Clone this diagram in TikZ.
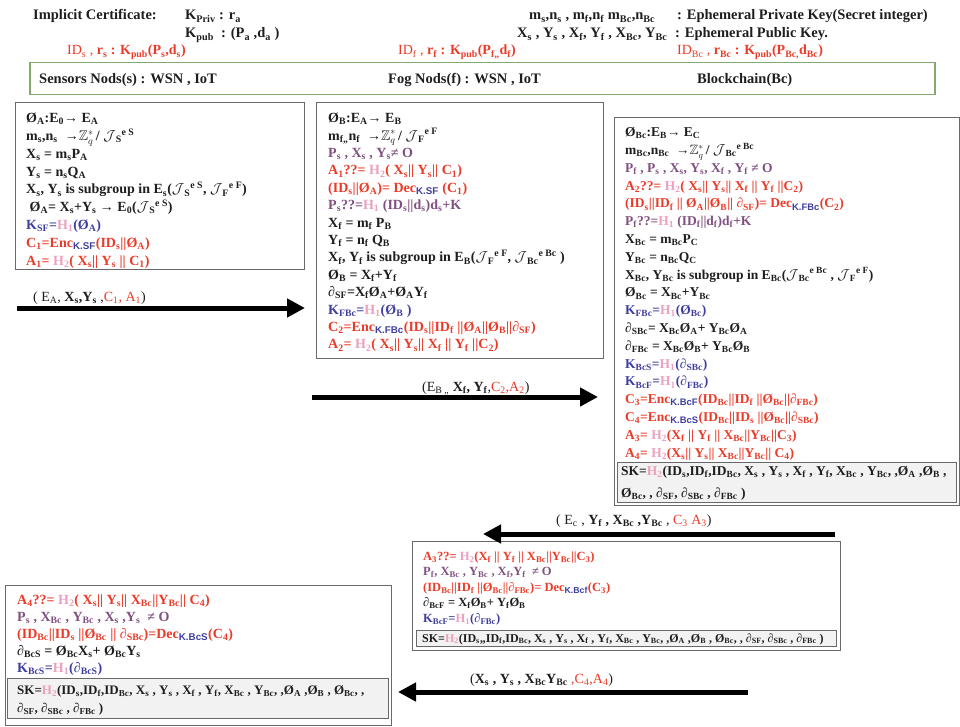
\documentclass[tikz,border=0pt]{standalone}
\usepackage{fontspec}
\setmainfont{Liberation Serif}
\setsansfont{Liberation Sans}
\usepackage{amssymb}
\usetikzlibrary{arrows.meta}

\definecolor{cred}{RGB}{236,58,40}
\definecolor{cpur}{RGB}{128,80,128}
\definecolor{cblue}{RGB}{62,62,160}
\definecolor{cpink}{RGB}{236,160,190}
\definecolor{cframe}{RGB}{105,105,105}
\definecolor{cgreen}{RGB}{130,170,110}
\definecolor{cskfill}{RGB}{242,242,242}
\definecolor{cink}{RGB}{30,30,30}

% sub/superscripts and recurring symbols
\newcommand\lo[1]{\textsubscript{#1}}
\newcommand\hi[1]{\textsuperscript{#1}}
\newcommand\Hh[1]{\textcolor{cpink}{H\lo{#1}}}
\newcommand\Kx[1]{\textsubscript{\textcolor{cblue}{\sffamily\bfseries #1}}}
\newcommand\Jc{$\mathcal{J}$}
\newcommand\Zq{$\mathbb{Z}^{*}_{q}$\,}
\newcommand\pd{{\itshape ∂}}
\newcommand\cR[1]{{\color{cred}#1}}
\newcommand\cP[1]{{\color{cpur}#1}}
\newcommand\cB[1]{{\color{cblue}#1}}
\newcommand\firstln{\rule{0pt}{11pt}}

\tikzset{
  hd/.style={anchor=base west, inner sep=0pt, text=cink, font=\bfseries\fontsize{14.5}{16}\selectfont},
  blk/.style={anchor=north west, inner sep=0pt, align=left, text=cink, font=\bfseries\fontsize{14}{17.8}\selectfont},
  frame/.style={draw=cframe, line width=1.2pt, anchor=north west, inner sep=0pt},
  skbox/.style={draw=cframe, fill=cskfill, line width=1pt, anchor=north west, inner sep=0pt},
  flow/.style={line width=5pt, -{Triangle[length=18pt,width=18pt]}},
  msg/.style={anchor=base west, inner sep=0pt, text=cink, font=\fontsize{14}{16}\selectfont},
}

\begin{document}
\begin{tikzpicture}[x=1pt,y=-1pt]
\useasboundingbox (0,0) rectangle (960,727);

% ---------------- header ----------------
\node[hd] (ic) at (33,20) {Implicit Certificate:};
\node[hd] (kpriv) at (185,20) {K\lo{Priv} : r\lo{a}};
\node[hd] (kpub) at (185,38) {K\lo{pub}\ \ : (P\lo{a} ,d\lo{a} )};
\node[hd] (ephm) at (529,20) {m\lo{s},n\lo{s} , m\lo{f},n\lo{f} m\lo{Bc},n\lo{Bc}};
\node[hd] (ephx) at (517,38) {X\lo{s} , Y\lo{s} , X\lo{f}, Y\lo{f} , X\lo{Bc}, Y\lo{Bc}};
\node[hd] (ephpriv) at (677,20) {: Ephemeral Private Key(Secret integer)};
\node[hd] (ephpub) at (675,38) {: Ephemeral Public Key.};
\node[hd, text=cred, font=\bfseries\fontsize{14}{16}\selectfont] (certs) at (67,55) {\mdseries ID\lo{s} , \bfseries r\lo{s} : K\lo{pub}(P\lo{s},d\lo{s})};
\node[hd, text=cred, font=\bfseries\fontsize{14}{16}\selectfont] (certf) at (398,55) {\mdseries ID\lo{f} , \bfseries r\lo{f} : K\lo{pub}(P\lo{f,,}d\lo{f})};
\node[hd, text=cred, font=\bfseries\fontsize{14}{16}\selectfont] (certbc) at (677,55) {\mdseries ID\lo{Bc} , \bfseries r\lo{Bc} : K\lo{pub}(P\lo{Bc,}d\lo{Bc})};

% ---------------- entities ----------------
\node[frame, draw=cgreen, line width=1.5pt, minimum width=905pt, minimum height=32pt] (ent) at (29,62) {};
\node[hd] (sens) at (39,84) {Sensors Nods(s) : WSN , IoT};
\node[hd] (fog) at (388,84) {Fog Nods(f) : WSN , IoT};
\node[hd] (bc) at (697,84) {Blockchain(Bc)};

% ---------------- sensor node ----------------
\node[frame, minimum width=289pt, minimum height=167pt] (box1) at (15,102) {};
\node[blk] (t1) at (26,111.5) {\firstln Ø\lo{A}:E\lo{0}→ E\lo{A}\\
m\lo{s},n\lo{s} \ →\Zq/ \Jc\lo{S}\hi{e S}\\
X\lo{s} = m\lo{s}P\lo{A}\\
Y\lo{s} = n\lo{s}Q\lo{A}\\
X\lo{s}, Y\lo{s} is subgroup in E\lo{s}(\Jc\lo{S}\hi{e S}, \Jc\lo{F}\hi{e F})\\
\ Ø\lo{A}= X\lo{s}+Y\lo{s} → E\lo{0}(\Jc\lo{S}\hi{e S})\\
\cB{K\lo{SF}=\Hh{1}(Ø\lo{A})}\\
\cR{C\lo{1}=Enc\Kx{K.SF}(ID\lo{s}||Ø\lo{A})}\\
\cR{A\lo{1}= \Hh{2}( X\lo{s}|| Y\lo{s} || C\lo{1})}};

% ---------------- fog node ----------------
\node[frame, minimum width=287pt, minimum height=256pt] (box2) at (316,102) {};
\node[blk, font=\bfseries\fontsize{14}{17.4}\selectfont] (t2) at (328,111.5) {\firstln Ø\lo{B}:E\lo{A}→ E\lo{B}\\
m\lo{f,,}n\lo{f} \ →\Zq/ \Jc\lo{F}\hi{e F}\\
\cP{P\lo{s} , X\lo{s} , Y\lo{s}≠ O}\\
\cR{A\lo{1}??= \Hh{2}( X\lo{s}|| Y\lo{s}|| C\lo{1})}\\
\cR{(ID\lo{s}||Ø\lo{A})= Dec\Kx{K.SF} (C\lo{1})}\\
\cP{P\lo{s}??=\Hh{1} (ID\lo{s}||d\lo{s})d\lo{s}+K}\\
X\lo{f} = m\lo{f} P\lo{B}\\
Y\lo{f} = n\lo{f} Q\lo{B}\\
X\lo{f}, Y\lo{f} is subgroup in E\lo{B}(\Jc\lo{F}\hi{e F}, \Jc\lo{Bc}\hi{e Bc} )\\
Ø\lo{B} = X\lo{f}+Y\lo{f}\\
\pd\lo{SF}=X\lo{f}Ø\lo{A}+Ø\lo{A}Y\lo{f}\\
\cB{K\lo{FBc}=\Hh{1}(Ø\lo{B} )}\\
\cR{C\lo{2}=Enc\Kx{K.FBc}(ID\lo{s}||ID\lo{f} ||Ø\lo{A}||Ø\lo{B}||\pd\lo{SF})}\\
\cR{A\lo{2}= \Hh{2}( X\lo{s}|| Y\lo{s}|| X\lo{f} || Y\lo{f} ||C\lo{2})}};

% ---------------- blockchain node ----------------
\node[frame, minimum width=345pt, minimum height=388pt] (box3) at (614,117) {};
\node[blk, font=\bfseries\fontsize{13.5}{17.8}\selectfont] (t3) at (625,125.5) {\firstln Ø\lo{Bc}:E\lo{B}→ E\lo{C}\\
m\lo{Bc},n\lo{Bc} \ →\Zq/ \Jc\lo{Bc}\hi{e Bc}\\
\cP{P\lo{f} , P\lo{s} , X\lo{s}, Y\lo{s}, X\lo{f} , Y\lo{f} ≠ O}\\
\cR{A\lo{2}??= \Hh{2}( X\lo{s}|| Y\lo{s}|| X\lo{f} || Y\lo{f} ||C\lo{2})}\\
\cR{(ID\lo{s}||ID\lo{f} || Ø\lo{A}||Ø\lo{B}|| \pd\lo{SF})= Dec\Kx{K.FBc}(C\lo{2})}\\
\cP{P\lo{f}??=\Hh{1} (ID\lo{f}||d\lo{f})d\lo{f}+K}\\
X\lo{Bc} = m\lo{Bc}P\lo{C}\\
Y\lo{Bc} = n\lo{Bc}Q\lo{C}\\
X\lo{Bc}, Y\lo{Bc} is subgroup in E\lo{Bc}(\Jc\lo{Bc}\hi{e Bc} , \Jc\lo{F}\hi{e F})\\
Ø\lo{Bc} = X\lo{Bc}+Y\lo{Bc}\\
\cB{K\lo{FBc}=\Hh{1}(Ø\lo{Bc})}\\
\pd\lo{SBc}= X\lo{Bc}Ø\lo{A}+ Y\lo{Bc}Ø\lo{A}\\
\pd\lo{FBc} = X\lo{Bc}Ø\lo{B}+ Y\lo{Bc}Ø\lo{B}\\
\cB{K\lo{BcS}=\Hh{1}(\pd\lo{SBc})}\\
\cB{K\lo{BcF}=\Hh{1}(\pd\lo{FBc})}\\
\cR{C\lo{3}=Enc\Kx{K.BcF}(ID\lo{Bc}||ID\lo{f} ||Ø\lo{Bc}||\pd\lo{FBc})}\\
\cR{C\lo{4}=Enc\Kx{K.BcS}(ID\lo{Bc}||ID\lo{s} ||Ø\lo{Bc}||\pd\lo{SBc})}\\
\cR{A\lo{3}= \Hh{2}(X\lo{f} || Y\lo{f} || X\lo{Bc}||Y\lo{Bc}||C\lo{3})}\\
\cR{A\lo{4}= \Hh{2}(X\lo{s}|| Y\lo{s}|| X\lo{Bc}||Y\lo{Bc}|| C\lo{4})}};
\node[skbox, minimum width=339pt, minimum height=40pt] (sk3) at (617,462) {};
\node[blk, font=\bfseries\fontsize{13.5}{22}\selectfont] (sk3t) at (621,464.5) {\firstln SK=\Hh{2}(ID\lo{s},ID\lo{f},ID\lo{Bc}, X\lo{s} , Y\lo{s} , X\lo{f} , Y\lo{f}, X\lo{Bc} , Y\lo{Bc}, ,Ø\lo{A} ,Ø\lo{B} ,\\
Ø\lo{Bc}, , \pd\lo{SF}, \pd\lo{SBc} , \pd\lo{FBc} )};

% ---------------- fog node, reply ----------------
\node[frame, minimum width=428pt, minimum height=109pt] (box4) at (412,541) {};
\node[blk, font=\bfseries\fontsize{12.5}{15.5}\selectfont] (t4) at (423,549) {\firstln \cR{A\lo{3}??= \Hh{2}(X\lo{f} || Y\lo{f} || X\lo{Bc}||Y\lo{Bc}||C\lo{3})}\\
\cP{P\lo{f}, X\lo{Bc} , Y\lo{Bc} , X\lo{f},Y\lo{f} \ ≠ O}\\
\cR{(ID\lo{Bc}||ID\lo{f} ||Ø\lo{Bc}||\pd\lo{FBc})= Dec\Kx{K.Bcf}(C\lo{3})}\\
\pd\lo{BcF} = X\lo{f}Ø\lo{B}+ Y\lo{f}Ø\lo{B}\\
\cB{K\lo{BcF}=\Hh{1}(\pd\lo{FBc})}};
\node[skbox, minimum width=420pt, minimum height=16pt] (sk4) at (416,630) {};
\node[hd, font=\bfseries\fontsize{12}{13}\selectfont] (sk4t) at (422,642) {SK=\Hh{2}(ID\lo{s},,ID\lo{f},ID\lo{Bc}, X\lo{s} , Y\lo{s} , X\lo{f} , Y\lo{f}, X\lo{Bc} , Y\lo{Bc}, ,Ø\lo{A} ,Ø\lo{B} , Ø\lo{Bc}, , \pd\lo{SF}, \pd\lo{SBc} , \pd\lo{FBc} )};

% ---------------- sensor node, reply ----------------
\node[frame, minimum width=386pt, minimum height=140pt] (box5) at (5,585) {};
\node[blk, font=\bfseries\fontsize{14}{17}\selectfont] (t5) at (17,593) {\firstln \cR{A\lo{4}??= \Hh{2}( X\lo{s}|| Y\lo{s}|| X\lo{Bc}||Y\lo{Bc}|| C\lo{4})}\\
\cP{P\lo{s} , X\lo{Bc} , Y\lo{Bc} , X\lo{s} ,Y\lo{s} \ ≠ O}\\
\cR{(ID\lo{Bc}||ID\lo{s} ||Ø\lo{Bc} || \pd\lo{SBc})=Dec\Kx{K.BcS}(C\lo{4})}\\
\pd\lo{BcS} = Ø\lo{Bc}X\lo{s}+ Ø\lo{Bc}Y\lo{s}\\
\cB{K\lo{BcS}=\Hh{1}(\pd\lo{BcS})}};
\node[skbox, minimum width=381pt, minimum height=40pt] (sk5) at (7,678) {};
\node[blk, font=\bfseries\fontsize{13}{18}\selectfont] (sk5t) at (17,683.5) {\firstln SK=\Hh{2}(ID\lo{s},ID\lo{f},ID\lo{Bc}, X\lo{s} , Y\lo{s} , X\lo{f} , Y\lo{f}, X\lo{Bc} , Y\lo{Bc}, ,Ø\lo{A} ,Ø\lo{B} , Ø\lo{Bc}, ,\\
\pd\lo{SF}, \pd\lo{SBc} , \pd\lo{FBc} )};

% ---------------- messages ----------------
\coordinate (m1s) at (17,308);
\coordinate (m1e) at (305,308);
\draw[flow] (m1s) -- (m1e);
\node[msg] (m1) at (33,301) {( E\lo{A}, \textbf{X\lo{s},Y\lo{s}} ,\cR{C\lo{1}, A\lo{1}})};

\coordinate (m2s) at (312,397);
\coordinate (m2e) at (598,397);
\draw[flow] (m2s) -- (m2e);
\node[msg] (m2) at (422,391) {(E\lo{B ,,} \textbf{X\lo{f}, Y\lo{f}},\cR{C\lo{2},A\lo{2}})};

\coordinate (m3s) at (835,534);
\coordinate (m3e) at (483,534);
\draw[flow] (m3s) -- (m3e);
\node[msg] (m3) at (556,524) {( E\lo{c} , \textbf{Y\lo{f} , X\lo{Bc} ,Y\lo{Bc}} , \cR{C\lo{3} A\lo{3}})};

\coordinate (m4s) at (748,692);
\coordinate (m4e) at (398,692);
\draw[flow] (m4s) -- (m4e);
\node[msg] (m4) at (470,683) {(\textbf{X\lo{s} , Y\lo{s} , X\lo{Bc}Y\lo{Bc}} \cR{,C\lo{4},A\lo{4}})};
\end{tikzpicture}
\end{document}
